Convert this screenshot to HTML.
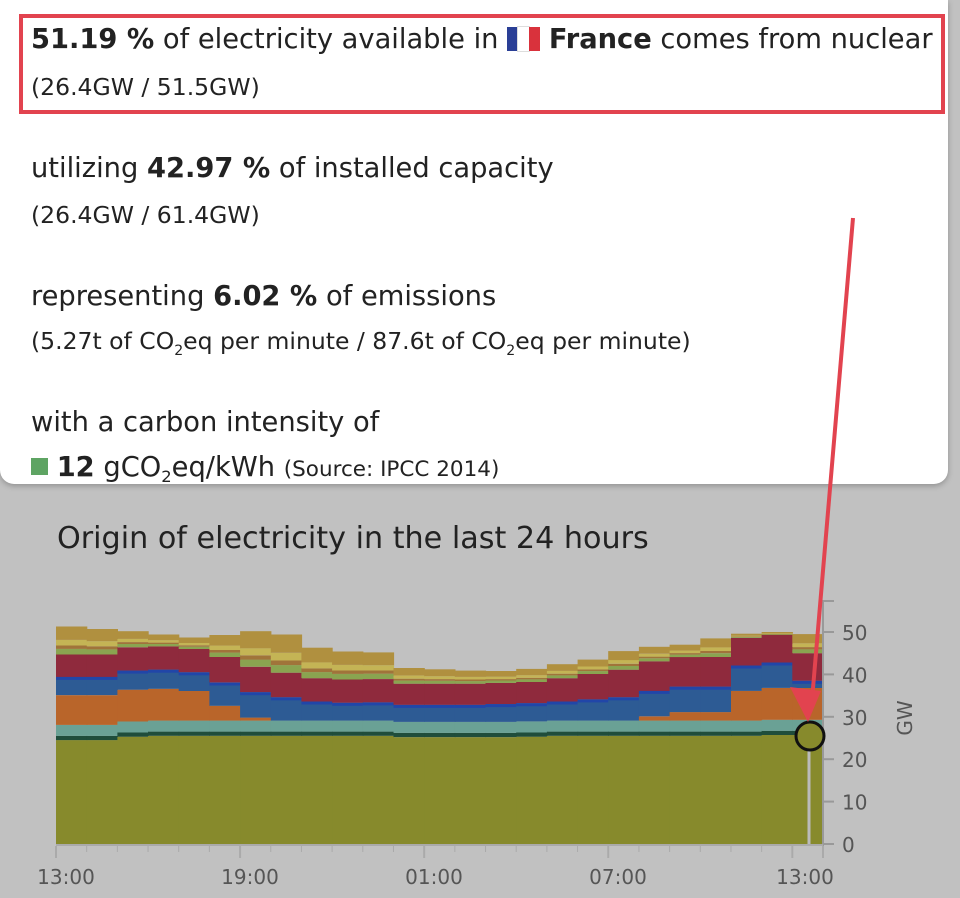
<!DOCTYPE html>
<html><head><meta charset="utf-8"><style>
body{margin:0;width:960px;height:898px;background:#c1c1c1;font-family:"DejaVu Sans","Liberation Sans",sans-serif;position:relative;overflow:hidden}
#tip{position:absolute;left:0;top:0;width:948px;height:484px;background:#fff;border-radius:0 0 14px 14px;box-shadow:0 2px 6px rgba(0,0,0,.25);overflow:hidden}
.l{position:absolute;left:31px;color:#222;white-space:nowrap}
.big{font-size:27.3px}.sm{font-size:23.5px}
#box{position:absolute;left:19px;top:14px;width:918px;height:92px;border:4px solid #e2434f}
sub{font-size:60%;vertical-align:-6px;line-height:0}
</style></head><body>
<div id="tip">
<div class="l big" style="top:24px"><b>51.19 %</b> of electricity available in <span style="display:inline-block;width:11px;height:24px;background:#2a3f96;vertical-align:-3px"></span><span style="display:inline-block;width:11px;height:24px;background:#fff;vertical-align:-3px;outline:1px solid #ddd"></span><span style="display:inline-block;width:11px;height:24px;background:#d9323c;vertical-align:-3px"></span> <b>France</b> comes from nuclear</div>
<div class="l sm" style="top:73px">(26.4GW / 51.5GW)</div>
<div id="box"></div>
<div class="l big" style="top:153px">utilizing <b>42.97 %</b> of installed capacity</div>
<div class="l sm" style="top:201px">(26.4GW / 61.4GW)</div>
<div class="l big" style="top:281px">representing <b>6.02 %</b> of emissions</div>
<div class="l sm" style="top:327px">(5.27t of CO<sub>2</sub>eq per minute / 87.6t of CO<sub>2</sub>eq per minute)</div>
<div class="l big" style="top:407px">with a carbon intensity of</div>
<div class="l big" style="top:452px"><span style="display:inline-block;width:17px;height:17px;background:#5ea463;vertical-align:1px"></span> <b>12</b> gCO<sub>2</sub>eq/kWh <span class="sm" style="font-size:21.5px">(Source: IPCC 2014)</span></div>
</div>
<div class="l" style="left:57px;top:521px;font-size:30.2px;color:#222">Origin of electricity in the last 24 hours</div>
<svg id="s" width="960" height="898" style="position:absolute;left:0;top:0"></svg>
<script>
const tot=[51.3,50.7,50.2,49.4,48.7,49.3,50.2,49.4,46.3,45.4,45.2,41.5,41.2,40.9,40.8,41.3,42.4,43.5,45.5,46.5,47,48.5,49.6,50,49.5];
const nuc=[24.5,24.5,25.3,25.5,25.5,25.5,25.5,25.5,25.5,25.5,25.5,25.2,25.2,25.2,25.2,25.3,25.5,25.5,25.5,25.5,25.5,25.5,25.5,25.7,25.7];
const org=[7,7,7.5,7.5,7,3.5,0.7,0,0,0,0,0,0,0,0,0,0,0,0,1,2,2,7,7.5,7.5];
const blu=[4.3,4.3,4.5,4.5,4.4,5.5,6,5.5,4.5,4.2,4.3,4,4,4,4.2,4.3,4.5,5,5.5,6,6,6,6,6,1.7];
const red=[5.3,5.3,5.5,5.5,5.5,6,6,5.8,5.5,5.5,5.5,5,5,5,5,5,5.5,6,6.5,7,7,7,6.5,6.5,6.5];
const cols=['#878a2c','#1f4d3b','#6aa195','#b9652a','#2d5b94','#8f2a3d','#8aa450','#a0743a','#c4b455','#b0903f'];
const x0=56,x1=823,n=25,w=(x1-x0)/n,Y=v=>844-v*4.24;
let L=[];
for(let i=0;i<n;i++){let r=[nuc[i],1,2.6,org[i],blu[i],red[i]];let s=r.reduce((a,b)=>a+b);let rem=tot[i]-s;let g=Math.min(2,rem*0.2),b=Math.min(1.2,rem*0.12),yy=Math.min(2,rem*0.2);r.push(g,b,yy,rem-g-b-yy);L.push(r);}
let h='';
for(let i=0;i<n;i++){let c=0;for(let k=0;k<10;k++){let v=L[i][k];if(v>0){h+=`<rect x="${(x0+i*w).toFixed(1)}" y="${Y(c+v).toFixed(1)}" width="${(w+0.6).toFixed(1)}" height="${(v*4.24).toFixed(1)}" fill="${cols[k]}"/>`;}c+=v;}
h+=`<rect x="${(x0+i*w).toFixed(1)}" y="${Y(L[i].slice(0,5).reduce((a,b)=>a+b)).toFixed(1)}" width="${(w+0.6).toFixed(1)}" height="3" fill="#2146a8"/>`;}
h+=`<line x1="823" y1="600" x2="823" y2="848" stroke="#999" stroke-width="2"/>`;
for(let v=0;v<=50;v+=10){h+=`<line x1="823" y1="${Y(v)}" x2="834" y2="${Y(v)}" stroke="#999" stroke-width="2"/><text x="842" y="${Y(v)+8}" font-size="20" fill="#555">${v}</text>`;}
h+=`<line x1="823" y1="601" x2="834" y2="601" stroke="#999" stroke-width="2"/>`;
h+=`<line x1="56" y1="845" x2="823" y2="845" stroke="#aaa" stroke-width="2"/>`;
for(let i=0;i<=n;i++){let x=x0+i*w;let maj=i%6==0||i==n;h+=`<line x1="${x}" y1="846" x2="${x}" y2="${maj?858:852}" stroke="#aaa" stroke-width="${maj?2:1}"/>`;}
[['13:00',66],['19:00',250],['01:00',434],['07:00',618],['13:00',805]].forEach(([t,x])=>h+=`<text x="${x}" y="884" font-size="20" fill="#555" text-anchor="middle">${t}</text>`);
h+=`<text x="912" y="718" font-size="20" fill="#555" text-anchor="middle" transform="rotate(-90 912 718)">GW</text>`;
h+=`<line x1="809" y1="736" x2="809" y2="844" stroke="#bbb" stroke-width="3"/>`;
h+=`<circle cx="810" cy="736" r="14" fill="#878a2c" stroke="#111" stroke-width="3"/>`;
h+=`<line x1="853" y1="218" x2="812" y2="700" stroke="#e2434f" stroke-width="4"/><polygon points="790,687 821,691 808,722" fill="#e2434f"/>`;
document.getElementById('s').innerHTML=h;
</script>
</body></html>
